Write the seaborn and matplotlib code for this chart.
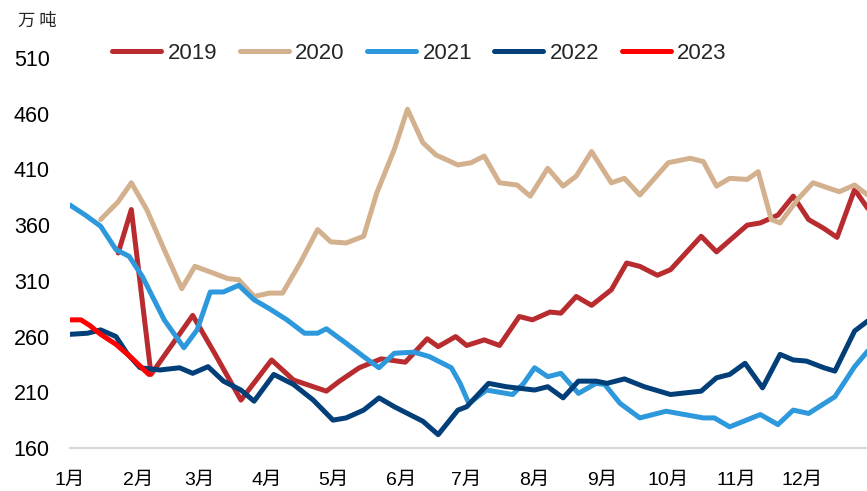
import matplotlib
matplotlib.use("Agg")
import matplotlib.pyplot as plt
import seaborn as sns
import pandas as pd

# day of year (0 = 1 Jan) and stock values, 万吨
DAYS_2019 = [22, 28, 37, 56, 66, 78, 92, 102, 111, 117, 123, 132, 142, 153, 163, 168,
             176, 181, 189, 196, 205, 211, 219, 224, 231, 238, 247, 254, 260, 268, 274,
             288, 295, 309, 315, 323, 330, 337, 344, 350, 358, 364]
VALS_2019 = [335, 374, 226, 279, 245, 203, 239, 221, 215, 211, 220, 232, 240, 237, 258, 251,
             260, 252, 257, 252, 278, 275, 282, 281, 296, 288, 302, 326, 323, 315, 320,
             350, 336, 360, 362, 369, 386, 365, 357, 349, 392, 375]

DAYS_2020 = [14, 22, 28, 35, 43, 51, 57, 64, 72, 77, 84, 91, 97, 105, 113, 119, 126, 134,
             140, 148, 154, 161, 167, 177, 183, 189, 196, 204, 210, 218, 225, 231, 238,
             247, 253, 260, 273, 283, 289, 295, 301, 309, 314, 320, 324, 332, 339, 351,
             358, 364]
VALS_2020 = [365, 381, 398, 374, 338, 303, 323, 318, 312, 311, 296, 299, 299, 326, 356, 345,
             344, 350, 389, 428, 464, 434, 423, 414, 416, 422, 398, 396, 386, 411, 395, 404,
             426, 398, 402, 387, 416, 420, 417, 395, 402, 401, 408, 365, 362, 383, 398, 390,
             396, 387]

DAYS_2021 = [0, 7, 14, 21, 27, 33, 43, 52, 58, 64, 70, 77, 84, 91, 99, 107, 113, 117, 126,
             134, 141, 148, 157, 164, 174, 178, 182, 190, 202, 207, 212, 218, 224, 232, 240,
             244, 251, 260, 272, 289, 294, 301, 315, 323, 330, 337, 349, 358, 364]
VALS_2021 = [378, 369, 359, 338, 332, 314, 275, 250, 266, 300, 300, 306, 293, 285, 275, 263,
             263, 267, 254, 242, 232, 245, 246, 242, 232, 218, 200, 212, 208, 218, 232, 224,
             227, 209, 218, 217, 200, 187, 193, 187, 187, 179, 190, 181, 194, 191, 206, 233,
             247]

DAYS_2022 = [0, 8, 14, 21, 26, 32, 41, 50, 56, 63, 70, 78, 84, 93, 102, 111, 120, 126, 134,
             141, 148, 154, 161, 168, 177, 181, 191, 199, 212, 218, 225, 232, 240, 245, 253,
             262, 274, 288, 295, 301, 308, 316, 324, 330, 336, 344, 349, 358, 364]
VALS_2022 = [262, 263, 266, 260, 245, 232, 230, 232, 227, 233, 220, 212, 202, 226, 217, 203,
             185, 187, 194, 205, 197, 191, 184, 172, 194, 197, 218, 215, 212, 215, 205, 220,
             220, 218, 222, 215, 208, 211, 223, 226, 236, 214, 244, 239, 238, 232, 229, 265,
             274]

DAYS_2023 = [0, 5, 9, 14, 21, 28, 36]
VALS_2023 = [275, 275, 270, 262, 253, 241, 226]

YEARS = ["2019", "2020", "2021", "2022", "2023"]
COLORS = ["#B82C2F", "#D3B18E", "#2E98DC", "#023F78", "#FF0000"]
MONTH_DAYS = [0, 31, 59, 90, 120, 151, 181, 212, 243, 273, 304, 334]
MONTH_LABELS = ["1月", "2月", "3月", "4月", "5月", "6月",
                "7月", "8月", "9月", "10月", "11月", "12月"]
Y_TICKS = [160, 210, 260, 310, 360, 410, 460, 510]

series = {
    "2019": (DAYS_2019, VALS_2019),
    "2020": (DAYS_2020, VALS_2020),
    "2021": (DAYS_2021, VALS_2021),
    "2022": (DAYS_2022, VALS_2022),
    "2023": (DAYS_2023, VALS_2023),
}
frames = [pd.DataFrame({"day": d, "value": v, "year": y}) for y, (d, v) in series.items()]
df = pd.concat(frames, ignore_index=True)

sns.set_style("white")
plt.rcParams["font.family"] = ["Liberation Sans", "Noto Sans CJK SC", "DejaVu Sans"]

fig = plt.figure(figsize=(8.67, 4.91), dpi=100)
ax = fig.add_axes([0.0807, 0.0876, 0.9227, 0.7943])

sns.lineplot(data=df, x="day", y="value", hue="year", hue_order=YEARS,
             palette=dict(zip(YEARS, COLORS)), linewidth=3.6, ax=ax,
             solid_capstyle="round", solid_joinstyle="round", sort=False)

ax.set_xlim(0, 365)
ax.set_ylim(160, 510)
ax.set_xticks(MONTH_DAYS)
ax.set_xticklabels(MONTH_LABELS, fontsize=14)
ax.set_yticks(Y_TICKS)
ax.set_yticklabels([str(t) for t in Y_TICKS], fontsize=15.5)
ax.set_xlabel("")
ax.set_ylabel("")

for side in ["top", "right", "left"]:
    ax.spines[side].set_visible(False)
ax.spines["bottom"].set_color("#d9d9d9")
ax.spines["bottom"].set_linewidth(1.6)
ax.tick_params(axis="x", direction="in", length=4, width=1.2, color="#d9d9d9",
               pad=17, labelcolor="black")
ax.tick_params(axis="y", length=0, pad=14.5, labelcolor="black")

handles, labels = ax.get_legend_handles_labels()
ax.legend(handles, labels, loc="center", bbox_to_anchor=(0.484, 0.892),
          bbox_transform=fig.transFigure, ncol=5, frameon=False, fontsize=16,
          handlelength=2.2, handletextpad=0.3, columnspacing=1.0)

fig.text(0.021, 0.958, "万 吨", fontsize=12.5, family=["Noto Sans CJK SC"], va="center")

fig.savefig("out.png", dpi=100)
plt.close(fig)
